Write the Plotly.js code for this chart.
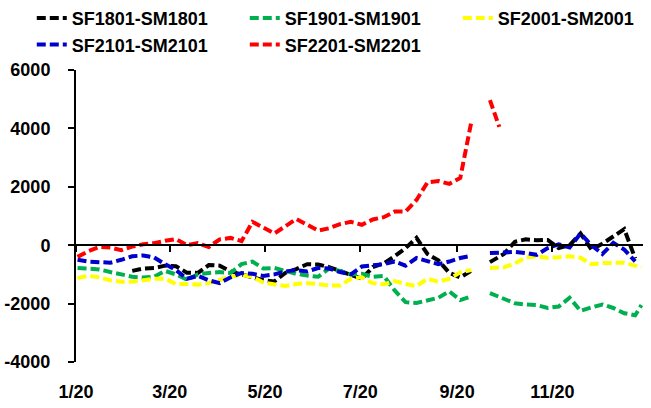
<!DOCTYPE html>
<html>
<head>
<meta charset="utf-8">
<script src="https://cdn.plot.ly/plotly-3.0.1.min.js"></script>
<style>
  html, body { margin: 0; padding: 0; background: #fff; }
  #chart { width: 651px; height: 408px; }
</style>
</head>
<body>
<div id="chart"></div>
<script>
// weekly sample dates (2020), a few extra around the late-September gap
const dates = [
  '2020-01-02', '2020-01-09', '2020-01-16', '2020-01-23', '2020-01-30',
  '2020-02-06', '2020-02-13', '2020-02-20', '2020-02-27',
  '2020-03-05', '2020-03-12', '2020-03-19', '2020-03-26',
  '2020-04-02', '2020-04-09', '2020-04-16', '2020-04-23', '2020-04-30',
  '2020-05-07', '2020-05-14', '2020-05-21', '2020-05-28',
  '2020-06-04', '2020-06-11', '2020-06-18', '2020-06-25',
  '2020-07-02', '2020-07-09', '2020-07-16', '2020-07-23', '2020-07-30',
  '2020-08-06', '2020-08-13', '2020-08-20', '2020-08-27',
  '2020-09-03', '2020-09-10', '2020-09-17', '2020-09-22', '2020-09-28',
  '2020-10-01', '2020-10-08', '2020-10-15', '2020-10-22', '2020-10-29',
  '2020-11-05', '2020-11-12', '2020-11-19', '2020-11-26',
  '2020-12-03', '2020-12-10', '2020-12-17', '2020-12-24', '2020-12-28'
];

const sf1801 = [
  null, null, null, null, null,
  -880, -800, -780, -700,
  -720, -940, -950, -680,
  -700, -900, -1000, -1100, -1200,
  -1240, -950, -820, -650,
  -660, -750, -880, -1000,
  -1150, -750, -620, -380, -100,
  250, -300, -520, -950,
  -1100, -880, null, -580, -400,
  -300, 120, 200, 170, 180,
  -100, 0, 400, -150,
  50, 300, 550, -450, null
];

const sf1901 = [
  -780, -800, -830, -920, -1000,
  -1080, -1110, -1080, -880,
  -1000, -1180, -1000, -950,
  -920, -950, -650, -560, -800,
  -780, -880, -980, -1040,
  -1080, -800, -880, -1000,
  -980, -1080, -1050, -1550, -1950,
  -1980, -1900, -1800, -1580,
  -1880, -1750, null, -1640, -1780,
  -1850, -1990, -2030, -2050, -2150,
  -2100, -1800, -2250, -2130,
  -2030, -2150, -2330, -2400, -2050
];

const sf2001 = [
  -1120, -1050, -1100, -1200, -1250,
  -1250, -1200, -1150, -1150,
  -1330, -1330, -1350, -1300,
  -1200, -1080, -1020, -1080, -1280,
  -1350, -1400, -1330, -1300,
  -1330, -1380, -1380, -1150,
  -1100, -1300, -1340, -1230, -1330,
  -1400, -1150, -1250, -1150,
  -930, -850, null, -780, -770,
  -760, -620, -420, -380, -430,
  -410, -380, -430, -650,
  -610, -590, -600, -700, -750
];

const sf2101 = [
  -500, -560, -580, -600, -500,
  -380, -350, -420, -650,
  -850, -1150, -1050, -1200,
  -1300, -1100, -950, -980, -1050,
  -1000, -900, -850, -900,
  -780, -800, -920, -1000,
  -730, -680, -650, -560, -700,
  -440, -540, -650, -560,
  -440, -360, null, -270, -260,
  -240, -230, -270, -330, -100,
  30, -80, 400, 0,
  -300, 80, -150, -550, null
];

const sf2201 = [
  -400, -200, -60, -80, -170,
  -50, 30, 70, 150,
  210, 0, 70, -60,
  200, 250, 140, 800, 600,
  400, 650, 900, 700,
  500, 580, 720, 800,
  700, 880, 960, 1150, 1150,
  1550, 2150, 2200, 2100,
  2300, 4200, null, 4970, 4050,
  null, null, null, null, null,
  null, null, null, null,
  null, null, null, null, null
];

const seriesNames = ['SF1801-SM1801', 'SF1901-SM1901', 'SF2001-SM2001', 'SF2101-SM2101', 'SF2201-SM2201'];
const seriesValues = [sf1801, sf1901, sf2001, sf2101, sf2201];
const seriesColors = ['#000000', '#00B050', '#FFFF00', '#0000CC', '#FF0000'];

const yTickVals = [-4000, -2000, 0, 2000, 4000, 6000];
const yTickText = ['-4000', '-2000', '0', '2000', '4000', '6000'];

const xRange = ['2020-01-01', '2020-12-29'];
const labelFont = { family: 'Liberation Sans, Arial, sans-serif', size: 18, color: '#000', weight: 'bold' };

const traces = seriesNames.map((name, i) => ({
  x: dates,
  y: seriesValues[i],
  name: name,
  type: 'scatter',
  mode: 'lines',
  line: { color: seriesColors[i], width: 4, dash: '9px,4px' },
  connectgaps: false
}));

// carrier for the axis that sits on y = 0
traces.push({
  x: xRange,
  y: [null, null],
  xaxis: 'x2',
  yaxis: 'y',
  mode: 'lines',
  showlegend: false,
  hoverinfo: 'skip'
});

const layout = {
  width: 651,
  height: 408,
  margin: { l: 76, r: 8, t: 70, b: 46, autoexpand: false },
  paper_bgcolor: '#fff',
  plot_bgcolor: '#fff',
  font: labelFont,
  showlegend: true,
  // placed left of and above the plot area so three entries fit on a row
  legend: {
    orientation: 'h',
    x: -0.078,
    y: 1.24,
    xanchor: 'left',
    yanchor: 'top',
    entrywidth: 168,
    entrywidthmode: 'pixels',
    font: { family: 'Liberation Sans, Arial, sans-serif', size: 18, color: '#000', weight: 'bold' },
    bgcolor: 'rgba(0,0,0,0)'
  },
  xaxis: {
    type: 'date',
    range: xRange,
    tick0: '2020-01-01',
    dtick: 'M2',
    tickformat: '%-m/%y',
    showline: false,
    showgrid: false,
    zeroline: false,
    ticks: '',
    ticklabelstandoff: 17,
    tickfont: labelFont
  },
  xaxis2: {
    type: 'date',
    overlaying: 'x',
    anchor: 'free',
    position: 0.4,
    range: xRange,
    tick0: '2020-01-01',
    dtick: 'M2',
    showticklabels: false,
    showline: true,
    linecolor: '#000',
    linewidth: 2,
    ticks: 'outside',
    ticklen: 6,
    tickwidth: 2,
    tickcolor: '#000',
    showgrid: false,
    zeroline: false
  },
  yaxis: {
    range: [-4000, 6000],
    tickvals: yTickVals,
    ticktext: yTickText,
    showline: true,
    linecolor: '#000',
    linewidth: 2,
    ticks: 'outside',
    ticklen: 6,
    tickwidth: 2,
    tickcolor: '#000',
    showgrid: false,
    zeroline: false,
    ticklabelstandoff: 14,
    tickfont: labelFont
  }
};

Plotly.newPlot('chart', traces, layout, { staticPlot: true });
</script>
</body>
</html>
